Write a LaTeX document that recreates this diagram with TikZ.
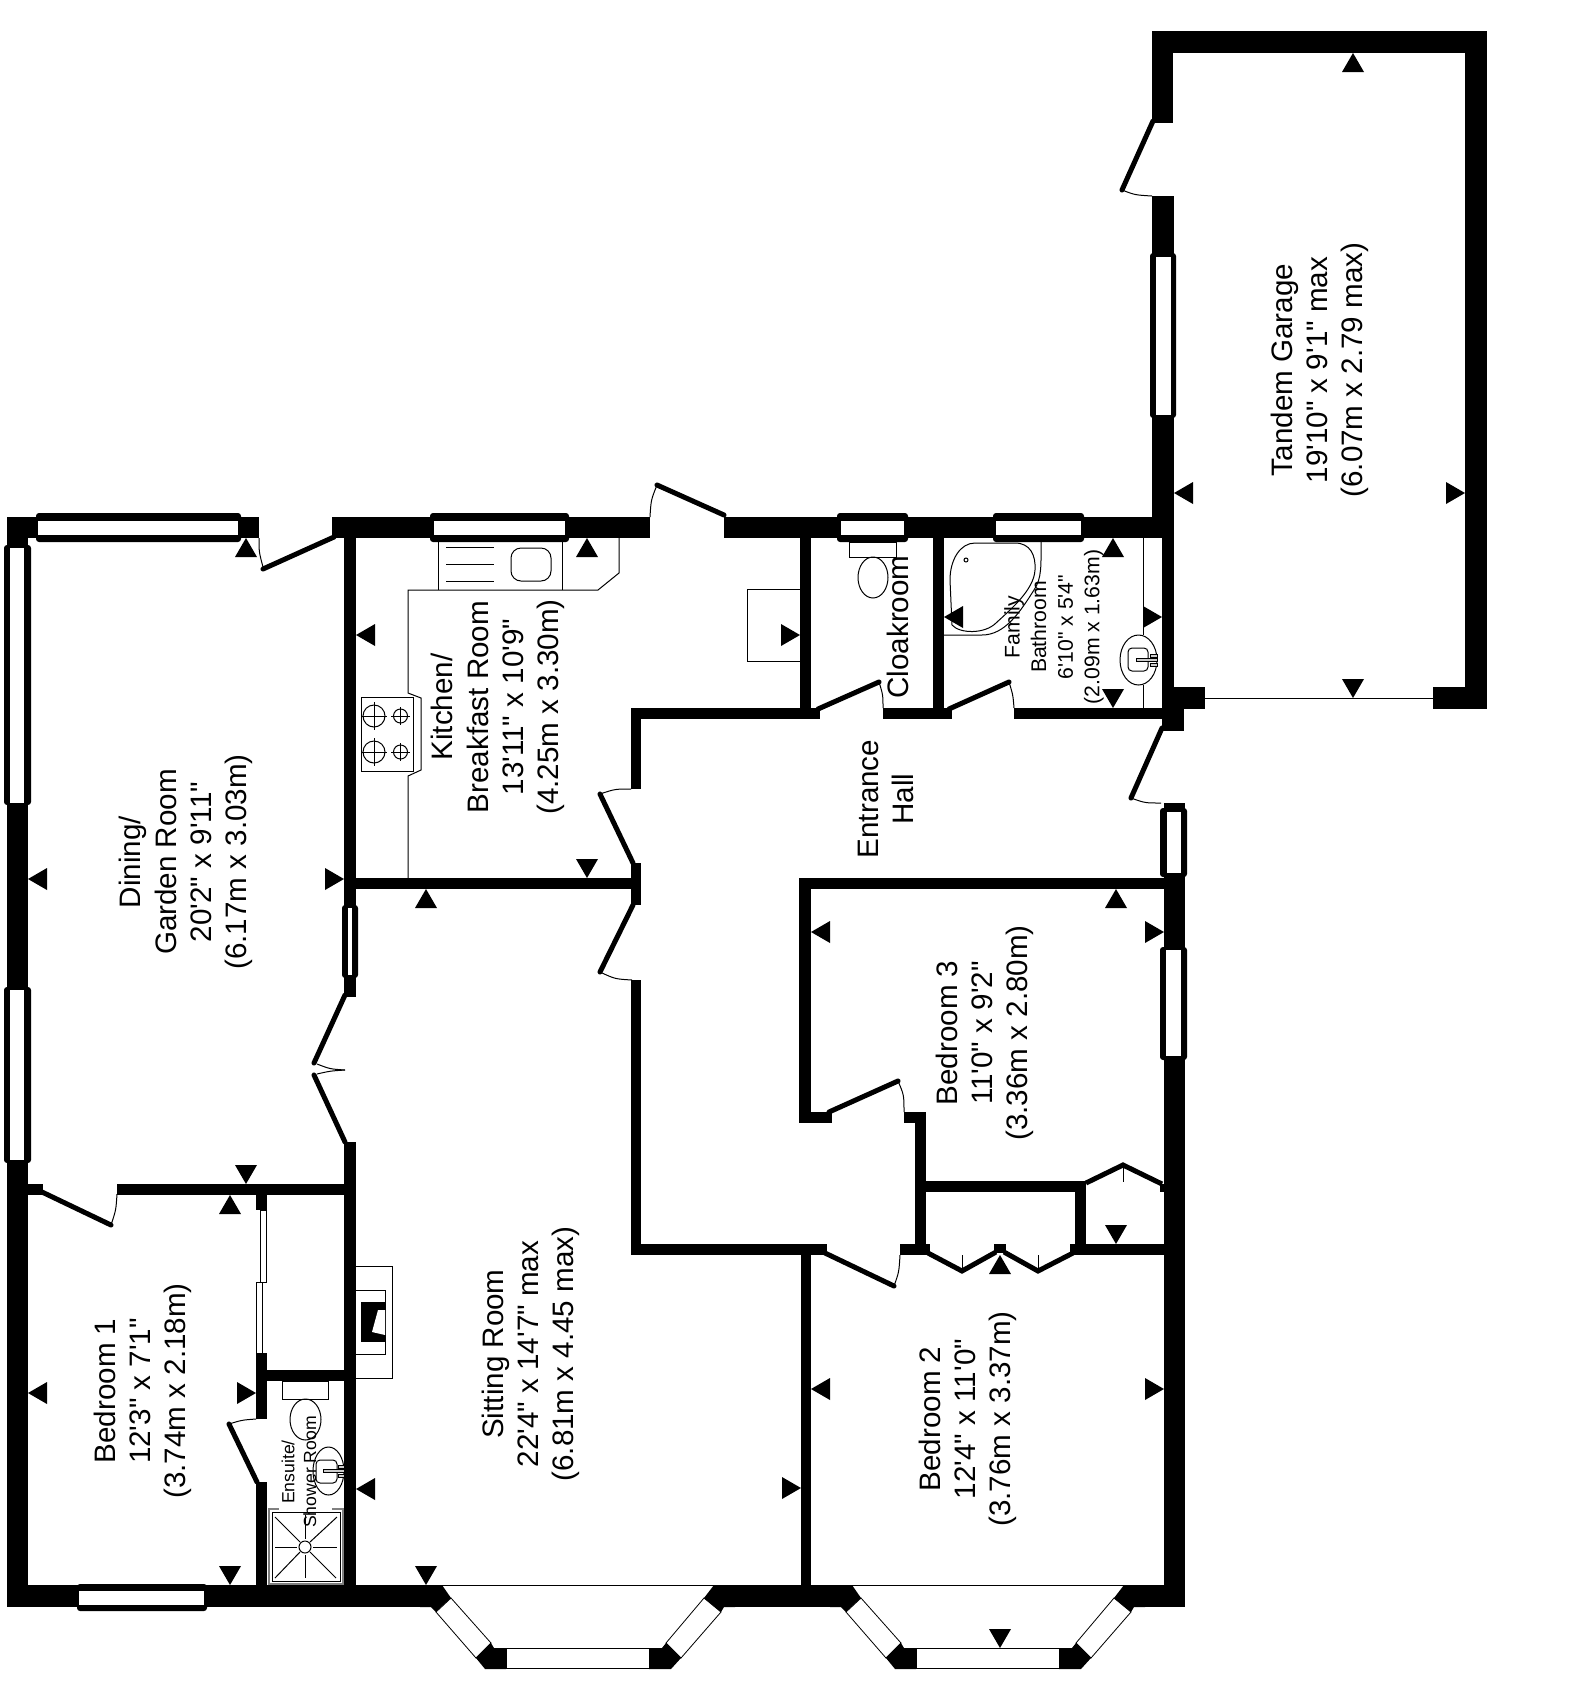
\documentclass[tikz,border=0pt]{standalone}
\usepackage{fontspec}
\newfontfamily\roomfont{Liberation Sans}
\usepackage{tikz}
\tikzset{
    x=0.5pt, y=-0.5pt,
    wall/.style={fill=black, draw=none},
    frame/.style={fill=black, draw=none, rounded corners=1.5pt},
    glass/.style={fill=white, draw=none},
    pane/.style={fill=white, draw=black, line width=0.4pt},
    leaf/.style={line width=2.5pt, line cap=round},
    thinline/.style={line width=0.5pt},
    fixture/.style={line width=0.5pt, fill=white},
    dimtip/.style={fill=black, draw=none},
    roomlabel/.style={rotate=90, align=center, inner sep=0pt, font=\roomfont\fontsize{14.8}{17.6}\selectfont},
    smalllabel/.style={rotate=90, align=center, inner sep=0pt, font=\roomfont\fontsize{10.6}{13.3}\selectfont},
    tinylabel/.style={rotate=90, align=center, inner sep=0pt, font=\roomfont\fontsize{8.8}{10.8}\selectfont}
}

\begin{document}
\begin{tikzpicture}
    \useasboundingbox (0, 0) rectangle (1576, 1688);

    % garage
    \fill[wall] (1152, 31) rectangle (1487, 53);
    \fill[wall] (1465, 31) rectangle (1487, 709);
    \fill[wall] (1152, 31) rectangle (1173, 123);
    \fill[wall] (1152, 196) rectangle (1174, 538);
    \fill[wall] (1433, 687) rectangle (1487, 709);
    \fill[wall] (1162, 538) rectangle (1174, 709);
    \fill[wall] (1162, 687) rectangle (1205, 709);
    \fill[wall] (1162, 709) rectangle (1184, 731);
    \draw[thinline] (1205, 698) -- (1433, 698);

    % outer walls
    \fill[wall] (7, 517) rectangle (259, 538);
    \fill[wall] (332, 517) rectangle (650, 538);
    \fill[wall] (724, 517) rectangle (1174, 538);
    \fill[wall] (7, 517) rectangle (28, 1607);
    \fill[wall] (7, 1585) rectangle (431, 1607);
    \fill[wall] (1164, 803) rectangle (1185, 1607);

    % bay windows
    \foreach \bayshift in {0, 410} {
        \begin{scope}[shift={(\bayshift, 0)}]
            \draw[thinline] (442, 1585) -- (714, 1585);
            \fill[wall] (420, 1585) -- (442, 1585) -- (451, 1598) -- (436, 1612)
                -- (431, 1607) -- (420, 1607) -- cycle;
            \draw[pane] (451, 1598) -- (491, 1643) -- (476, 1658) -- (436, 1612) -- cycle;
            \fill[wall] (491, 1643) -- (494, 1648) -- (506, 1648) -- (506, 1669)
                -- (485, 1669) -- (476, 1658) -- cycle;
            \draw[pane] (506, 1648) rectangle (649, 1668);
            \fill[wall] (649, 1648) -- (662, 1648) -- (666, 1643) -- (681, 1658)
                -- (671, 1669) -- (649, 1669) -- cycle;
            \draw[pane] (666, 1643) -- (704, 1598) -- (721, 1612) -- (681, 1658) -- cycle;
            \fill[wall] (714, 1585) -- (704, 1598) -- (721, 1612) -- (724, 1607)
                -- (735, 1607) -- (735, 1585) -- cycle;
        \end{scope}
    }
    \fill[wall] (724, 1585) rectangle (852, 1607);
    \fill[wall] (1124, 1585) rectangle (1185, 1607);

    % inner walls
    \fill[wall] (344, 538) rectangle (356, 997);
    \fill[wall] (344, 1142) rectangle (356, 1607);
    \fill[wall] (344, 878) rectangle (641, 889);
    \fill[wall] (631, 708) rectangle (641, 789);
    \fill[wall] (631, 863) rectangle (641, 905);
    \fill[wall] (631, 980) rectangle (641, 1255);
    \fill[wall] (631, 708) rectangle (820, 719);
    \fill[wall] (883, 708) rectangle (952, 719);
    \fill[wall] (1014, 708) rectangle (1164, 719);
    \fill[wall] (800, 538) rectangle (811, 719);
    \fill[wall] (933, 538) rectangle (944, 719);
    \fill[wall] (799, 878) rectangle (1164, 889);
    \fill[wall] (799, 878) rectangle (811, 1123);
    \fill[wall] (799, 1112) rectangle (832, 1123);
    \fill[wall] (904, 1112) rectangle (926, 1123);
    \fill[wall] (915, 1112) rectangle (926, 1255);
    \fill[wall] (926, 1181) rectangle (1086, 1192);
    \fill[wall] (1075, 1181) rectangle (1086, 1255);
    \fill[wall] (1160, 1184) rectangle (1164, 1192);
    \fill[wall] (631, 1244) rectangle (827, 1255);
    \fill[wall] (900, 1244) rectangle (930, 1255);
    \fill[wall] (994, 1244) rectangle (1006, 1253);
    \fill[wall] (1070, 1244) rectangle (1164, 1255);
    \fill[wall] (801, 1244) rectangle (811, 1607);
    \fill[wall] (28, 1184) rectangle (43, 1195);
    \fill[wall] (117, 1184) rectangle (356, 1195);
    \fill[wall] (256, 1184) rectangle (267, 1210);
    \fill[wall] (256, 1353) rectangle (267, 1419);
    \fill[wall] (256, 1370) rectangle (345, 1381);
    \fill[wall] (256, 1482) rectangle (267, 1607);
    \draw[pane] (260, 1210) rectangle (266, 1282);
    \draw[pane] (256, 1282) rectangle (262, 1353);

    % windows
    \fill[frame] (36, 513) rectangle (241, 542);
    \fill[glass] (38, 521) rectangle (238, 535);
    \fill[frame] (430, 513) rectangle (569, 542);
    \fill[glass] (434, 521) rectangle (565, 535);
    \fill[frame] (837, 513) rectangle (908, 542);
    \fill[glass] (841, 521) rectangle (904, 535);
    \fill[frame] (993, 513) rectangle (1084, 542);
    \fill[glass] (996, 521) rectangle (1081, 535);
    \fill[frame] (4, 545) rectangle (31, 805);
    \fill[glass] (10, 548) rectangle (24, 803);
    \fill[frame] (4, 987) rectangle (31, 1163);
    \fill[glass] (10, 990) rectangle (24, 1160);
    \fill[frame] (1150, 253) rectangle (1176, 418);
    \fill[glass] (1156, 257) rectangle (1171, 415);
    \fill[frame] (342, 905) rectangle (358, 978);
    \fill[glass] (348, 908) rectangle (352, 975);
    \fill[frame] (1160, 808) rectangle (1187, 877);
    \fill[glass] (1167, 812) rectangle (1181, 873);
    \fill[frame] (1160, 947) rectangle (1187, 1060);
    \fill[glass] (1166, 950) rectangle (1181, 1056);
    \fill[frame] (77, 1584) rectangle (207, 1611);
    \fill[glass] (79, 1591) rectangle (204, 1605);

    % doors
    \draw[leaf] (1153, 121) -- (1122, 190);
    \draw[thinline] (1122, 190) .. controls (1135, 195) .. (1152, 196);
    \draw[leaf] (334, 537) -- (263, 569);
    \draw[thinline] (259, 538) .. controls (259, 552) .. (263, 567);
    \draw[leaf] (724, 515) -- (657, 485);
    \draw[thinline] (657, 485) .. controls (651, 500) .. (650, 517);
    \draw[leaf] (818, 709) -- (879, 682);
    \draw[thinline] (879, 682) .. controls (883, 695) .. (883, 708);
    \draw[leaf] (949, 709) -- (1009, 682);
    \draw[thinline] (1009, 682) .. controls (1013, 695) .. (1014, 708);
    \draw[leaf] (1162, 728) -- (1131, 798);
    \draw[thinline] (1131, 798) .. controls (1145, 803) .. (1161, 803);
    \draw[leaf] (633, 863) -- (600, 794);
    \draw[thinline] (600, 794) .. controls (615, 789) .. (631, 789);
    \draw[leaf] (633, 905) -- (600, 972);
    \draw[thinline] (600, 972) .. controls (615, 979) .. (632, 980);
    \draw[leaf] (345, 995) -- (314, 1063);
    \draw[leaf] (314, 1075) -- (345, 1142);
    \draw[thinline] (317, 1064) .. controls (330, 1069) .. (345, 1070);
    \draw[thinline] (317, 1074) .. controls (330, 1071) .. (345, 1070);
    \draw[leaf] (42, 1192) -- (111, 1225);
    \draw[thinline] (111, 1225) .. controls (116, 1210) .. (117, 1194);
    \draw[leaf] (257, 1482) -- (229, 1424);
    \draw[thinline] (229, 1424) .. controls (242, 1420) .. (256, 1419);
    \draw[leaf] (829, 1112) -- (898, 1081);
    \draw[thinline] (898, 1081) .. controls (904, 1095) .. (904, 1112);
    \draw[leaf] (825, 1253) -- (894, 1286);
    \draw[thinline] (894, 1286) .. controls (899, 1272) .. (900, 1255);

    % cupboard doors
    \draw[leaf, line cap=butt] (928, 1253) -- (962, 1271) -- (996, 1252);
    \draw[leaf, line cap=butt] (1004, 1252) -- (1038, 1271) -- (1073, 1253);
    \draw[leaf, line cap=butt] (1086, 1183) -- (1123, 1165) -- (1162, 1184);
    \draw[thinline] (962, 1271) -- (962, 1255);
    \draw[thinline] (1038, 1271) -- (1038, 1255);
    \draw[thinline] (1123, 1165) -- (1123, 1182);

    % kitchen units
    \draw[thinline] (619, 538) -- (619, 573) -- (598, 590) -- (408, 590) -- (408, 693)
        -- (421, 698) -- (421, 770) -- (408, 776) -- (408, 878);
    \draw[thinline] (438, 538) -- (438, 590);
    \draw[thinline] (562, 538) -- (562, 590);
    \draw[thinline, rounded corners=5pt] (511, 548) rectangle (551, 581);
    \draw[thinline] (446, 547) -- (494, 547);
    \draw[thinline] (446, 564) -- (494, 564);
    \draw[thinline] (446, 581) -- (494, 581);
    \draw[fixture] (361, 697) rectangle (413, 771);
    \foreach \ringy in {716, 752} {
        \draw[thinline] (374, \ringy) circle (11);
        \draw[thinline] (361, \ringy) -- (387, \ringy);
        \draw[thinline] (374, \ringy-14) -- (374, \ringy+14);
        \draw[thinline] (400.5, \ringy) circle (7);
        \draw[thinline] (391, \ringy) -- (410, \ringy);
        \draw[thinline] (400.5, \ringy-9) -- (400.5, \ringy+9);
    }
    \draw[thinline] (747, 661) -- (747, 589) -- (800, 589);
    \draw[thinline] (747, 661) -- (800, 661);

    % cloakroom, bathroom
    \draw[fixture] (849, 542) rectangle (896, 557);
    \draw[thinline] (873, 577.5) ellipse (15 and 20.5);
    \draw[thinline] (944, 635) -- (982, 635) .. controls (1005, 635) and (1020, 612) .. (1034, 590)
        .. controls (1042, 578) and (1041, 565) .. (1041, 542);
    \draw[thinline] (950, 580) .. controls (950, 560) and (960, 543) .. (975, 543) -- (1015, 543)
        .. controls (1030, 543) and (1036, 555) .. (1035, 570)
        .. controls (1034, 590) and (1010, 610) .. (996, 623)
        .. controls (985, 634) and (960, 634) .. (952, 625) -- cycle;
    \draw[thinline] (966, 560) circle (2);
    \draw[thinline] (1143, 538) -- (1143, 635);
    \draw[thinline] (1143, 685) -- (1143, 708);
    \draw[thinline] (1138.5, 660) ellipse (18.5 and 25);
    \draw[thinline, rounded corners=2pt] (1128, 648) rectangle (1148, 671);
    \draw[thinline, fill=gray!40] (1136, 658) rectangle (1157, 661);
    \draw[thinline, fill=gray!40] (1150, 654) rectangle (1157, 657);
    \draw[thinline, fill=gray!40] (1150, 663) rectangle (1157, 666);

    % fireplace
    \draw[thinline] (356, 1266) -- (392, 1266) -- (392, 1378) -- (356, 1378);
    \draw[thinline] (356, 1290) -- (385, 1290) -- (385, 1354) -- (356, 1354);
    \fill[wall] (361, 1302) rectangle (385, 1342);
    \fill[glass] (385, 1310) -- (378, 1310) -- (372, 1332) -- (385, 1335) -- cycle;

    % ensuite
    \draw[fixture] (282, 1381) rectangle (328, 1399);
    \draw[thinline] (305.5, 1419.5) ellipse (15.5 and 20.5);
    \draw[thinline] (328.5, 1471) ellipse (15.5 and 24);
    \draw[thinline, rounded corners=2pt] (316, 1460) rectangle (337, 1483);
    \draw[thinline, fill=gray!40] (323, 1469) rectangle (344, 1472);
    \draw[thinline, fill=gray!40] (338, 1465) rectangle (344, 1468);
    \draw[thinline, fill=gray!40] (338, 1474) rectangle (344, 1477);
    \draw[gray, line width=1.2pt] (269, 1509) rectangle (343, 1584);
    \draw[thinline] (272, 1512) rectangle (340, 1581);
    \draw[glass] (279, 1508) rectangle (332, 1510);
    \draw[thinline] (305, 1547) circle (6);
    \draw[thinline] (275, 1547) -- (297, 1547);
    \draw[thinline] (313, 1547) -- (337, 1547);
    \draw[thinline] (305, 1515) -- (305, 1539);
    \draw[thinline] (305, 1555) -- (305, 1578);
    \draw[thinline] (275, 1517) -- (300, 1542);
    \draw[thinline] (310, 1552) -- (336, 1578);
    \draw[thinline] (337, 1517) -- (310, 1542);
    \draw[thinline] (300, 1552) -- (275, 1578);

    % dimension marks
    \foreach \tipx/\tipy in {1353/53, 426/889, 230/1195, 1113/538, 246/538, 587/538, 1116/889, 1000/1255}
        \fill[dimtip] (\tipx, \tipy) -- ++(-11, 19) -- ++(22, 0) -- cycle;
    \foreach \tipx/\tipy in {1353/698, 1113/708, 587/878, 246/1184, 230/1585, 426/1585, 1116/1244, 1000/1648}
        \fill[dimtip] (\tipx, \tipy) -- ++(-11, -19) -- ++(22, 0) -- cycle;
    \foreach \tipx/\tipy in {1174/493, 28/879, 356/635, 944/617, 28/1393, 356/1489, 811/932, 811/1389}
        \fill[dimtip] (\tipx, \tipy) -- ++(19, -11) -- ++(0, 22) -- cycle;
    \foreach \tipx/\tipy in {1465/493, 344/879, 800/635, 1162/617, 256/1393, 801/1488, 1164/932, 1164/1389}
        \fill[dimtip] (\tipx, \tipy) -- ++(-19, -11) -- ++(0, 22) -- cycle;

    % labels
    \node[roomlabel] (dining) at (186, 862) {Dining/\\Garden Room\\20'2" x 9'11"\\(6.17m x 3.03m)};
    \node[roomlabel] (kitchen) at (498, 707) {Kitchen/\\Breakfast Room\\13'11" x 10'9"\\(4.25m x 3.30m)};
    \node[roomlabel] (sitting) at (531, 1354) {Sitting Room\\22'4" x 14'7" max\\(6.81m x 4.45 max)};
    \node[roomlabel] (bedone) at (143, 1391) {Bedroom 1\\12'3" x 7'1"\\(3.74m x 2.18m)};
    \node[roomlabel] (bedtwo) at (968, 1419) {Bedroom 2\\12'4" x 11'0"\\(3.76m x 3.37m)};
    \node[roomlabel] (bedthree) at (985, 1033) {Bedroom 3\\11'0" x 9'2"\\(3.36m x 2.80m)};
    \node[roomlabel] (garage) at (1320, 370) {Tandem Garage\\19'10" x 9'1" max\\(6.07m x 2.79 max)};
    \node[roomlabel] (hall) at (886, 799) {Entrance\\Hall};
    \node[roomlabel] (cloak) at (898, 627) {Cloakroom};
    \node[smalllabel] (bath) at (1054, 627) {Family\\Bathroom\\6'10" x 5'4"\\(2.09m x 1.63m)};
    \node[tinylabel] (ensuite) at (299, 1472) {Ensuite/\\Shower Room};
\end{tikzpicture}
\end{document}
